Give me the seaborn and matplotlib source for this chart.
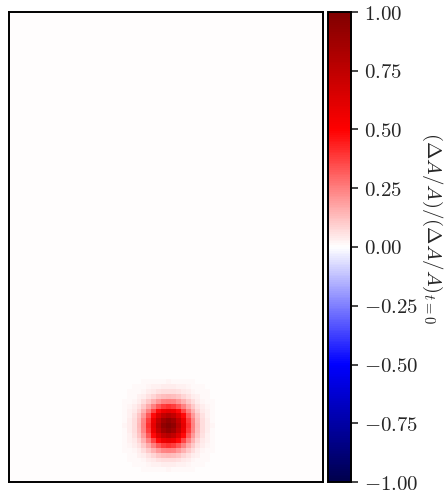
import numpy as np
import matplotlib
matplotlib.use("Agg")
import matplotlib.pyplot as plt
import seaborn as sns

# ---- data ----
n_cols = 64
n_rows = 96
background = 0.006
peak = 0.97
blob_col = 32
blob_row = 84          # counted from the top row
profile = [0.01, 0.03, 0.066, 0.135, 0.25, 0.41, 0.61, 0.80, 0.946, 1.00,
           0.946, 0.80, 0.61, 0.41, 0.25, 0.135, 0.066, 0.03, 0.01]
cbar_ticks = [-1.0, -0.75, -0.5, -0.25, 0.0, 0.25, 0.5, 0.75, 1.0]
cbar_label = r"$(\Delta A/A)/(\Delta A/A)_{t=0}$"

# ---- build field from the read values ----
field = np.full((n_rows, n_cols), background)
prof = np.array(profile)
patch = peak * np.outer(prof, prof)
h = len(profile) // 2
field[blob_row - h:blob_row + h + 1, blob_col - h:blob_col + h + 1] += patch

sns.set_style("white")
plt.rcParams["mathtext.fontset"] = "cm"
plt.rcParams["font.family"] = ["DejaVu Serif"]

W, H = 446, 494
fig = plt.figure(figsize=(W / 100, H / 100), dpi=100)
ax = fig.add_axes([9 / W, 1 - 482 / H, 314 / W, 470 / H])
cax = fig.add_axes([328 / W, 1 - 482 / H, 23 / W, 470 / H])

sns.heatmap(field, cmap="seismic", vmin=-1, vmax=1, ax=ax, cbar_ax=cax,
            xticklabels=False, yticklabels=False)

for s in ax.spines.values():
    s.set_visible(True)
    s.set_color("black")
    s.set_linewidth(1.4)

cbar = ax.collections[0].colorbar
cbar.set_ticks(cbar_ticks)
cbar.set_ticklabels([f"${t:.2f}$" for t in cbar_ticks])
cbar.outline.set_visible(True)
cbar.outline.set_edgecolor("black")
cbar.outline.set_linewidth(1.4)
cax.tick_params(axis="y", length=5, width=1.2, labelsize=15, pad=4, direction="out", right=True)
cbar.set_label(cbar_label, rotation=270, fontsize=15)
cax.yaxis.set_label_coords(5.05, 0.54)

fig.savefig("out.png", dpi=100)
